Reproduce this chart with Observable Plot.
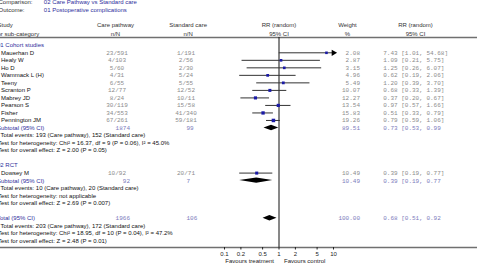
<!DOCTYPE html>
<html>
<head>
<meta charset="utf-8">
<script src="https://cdn.jsdelivr.net/npm/d3@7"></script>
<script src="https://cdn.jsdelivr.net/npm/@observablehq/plot@0.6"></script>
<style>
  html, body { margin: 0; padding: 0; background: #fff; overflow: hidden; }
  svg { display: block; }
</style>
</head>
<body>
<div id="chart"></div>
<script>
// Individual studies
const studies = ["Mauerhan D", "Healy W", "Ho D", "Wammack L (H)", "Teeny", "Scranton P",
  "Mabrey JD", "Pearson S", "Fisher", "Pennington JM", "Dowsey M"];
const studyGroup = [0, 0, 0, 0, 0, 0, 0, 0, 0, 0, 1];
const careEvents = ["23/591", "4/103", "5/60", "4/31", "6/55", "12/77", "8/24", "30/119", "34/553", "67/261", "10/92"];
const standardEvents = ["1/191", "2/56", "2/30", "5/24", "5/55", "12/52", "10/11", "15/58", "41/340", "59/181", "20/71"];
const studyRR = [7.43, 1.09, 1.25, 0.62, 1.20, 0.68, 0.37, 0.97, 0.51, 0.79, 0.39];
const studyLower = [1.01, 0.21, 0.26, 0.19, 0.39, 0.33, 0.20, 0.57, 0.33, 0.59, 0.19];
const studyUpper = [54.68, 5.75, 6.07, 2.06, 3.70, 1.39, 0.67, 1.66, 0.79, 1.06, 0.77];
const studyWeight = [2.08, 2.87, 3.15, 4.96, 5.49, 10.07, 12.27, 13.54, 15.83, 19.26, 10.49];

// Sub-groups, subtotals and the overall total (last entry)
const groupNames = ["01 Cohort studies", "02 RCT"];
const pooledLabels = ["Subtotal (95% CI)", "Subtotal (95% CI)", "Total (95% CI)"];
const pooledCare = ["1874", "92", "1966"];
const pooledStandard = ["99", "7", "106"];
const pooledRR = [0.73, 0.39, 0.68];
const pooledLower = [0.53, 0.19, 0.51];
const pooledUpper = [0.99, 0.77, 0.92];
const pooledWeight = [89.51, 10.49, 100.00];
const pooledNotes = [
  ["Total events: 193 (Care pathway), 152 (Standard care)",
   "Test for heterogeneity: Chi\u00b2 = 16.37, df = 9 (P = 0.06), I\u00b2 = 45.0%",
   "Test for overall effect: Z = 2.00 (P = 0.05)"],
  ["Total events: 10 (Care pathway), 20 (Standard care)",
   "Test for heterogeneity: not applicable",
   "Test for overall effect: Z = 2.69 (P = 0.007)"],
  ["Total events: 203 (Care pathway), 172 (Standard care)",
   "Test for heterogeneity: Chi\u00b2 = 18.95, df = 10 (P = 0.04), I\u00b2 = 47.2%",
   "Test for overall effect: Z = 2.48 (P = 0.01)"]
];

const axisTicks = [0.1, 0.2, 0.5, 1, 2, 5, 10];
const xClip = 10; // lines running past the last tick end in an arrow

const comparisonText = "02 Care Pathway vs Standard care";
const outcomeText = "01 Postoperative complications";

// ---- table layout: one row index per line of the forest plot
const fmt = v => v.toFixed(2);
const studyRows = [], groupRows = [], pooledRows = [], noteRows = [];
let r = -1;
const addPooled = k => {
  pooledRows.push({row: r, label: pooledLabels[k], care: pooledCare[k], std: pooledStandard[k],
    rr: pooledRR[k], lo: pooledLower[k], hi: pooledUpper[k], weight: pooledWeight[k],
    ci: `${fmt(pooledRR[k])} [${fmt(pooledLower[k])}, ${fmt(pooledUpper[k])}`});
  r++;
  pooledNotes[k].forEach((t, j) => { noteRows.push({row: r, text: t, first: j === 0}); r++; });
};
groupNames.forEach((g, gi) => {
  groupRows.push({row: r, label: g}); r++;
  studies.forEach((s, i) => {
    if (studyGroup[i] !== gi) return;
    studyRows.push({row: r, name: s, care: careEvents[i], std: standardEvents[i],
      rr: studyRR[i], lo: studyLower[i], hi: studyUpper[i], weight: studyWeight[i],
      ci: `${fmt(studyRR[i])} [${fmt(studyLower[i])}, ${fmt(studyUpper[i])}]`});
    r++;
  });
  addPooled(gi);
  r++;
});
addPooled(2);

// diamond outlines for pooled estimates
const diamondHalf = 0.36;
const diamonds = pooledRows.flatMap((d, k) => [
  {id: k, x: d.lo, y1: d.row, y2: d.row},
  {id: k, x: d.rr, y1: d.row - diamondHalf, y2: d.row + diamondHalf},
  {id: k, x: d.hi, y1: d.row, y2: d.row}
]);

const sans = "Liberation Sans, Arial, Helvetica, sans-serif";
const mono = "Liberation Mono, Courier New, monospace";
const blue = "#2e2e9c";
const gray = "#8c8c8c";
const pooledGray = "#7c7cbc";
const fs = 6;

// column headings: two lines each, offsets from the frame's top-left corner
const headers = [
  {a: "Study", b: "or sub-category", dx: -3, anchor: "start"},
  {a: "Care pathway", b: "n/N", dx: 115, anchor: "middle"},
  {a: "Standard care", b: "n/N", dx: 187.7, anchor: "middle"},
  {a: "Weight", b: "%", dx: 347, anchor: "middle"},
  {a: "RR (random)", b: "95% CI", dx: 415, anchor: "middle"}
];
const headLineDy = [-14.7, -6];

const topText = (t, dx, dy, anchor, fill) =>
  Plot.text([t], {frameAnchor: "top-left", text: d => d, dx, dy, textAnchor: anchor, fill, fontSize: fs});

const col = (data, opts) => Plot.text(data, {frameAnchor: "left", fontSize: fs, ...opts});

const chart = Plot.plot({
  width: 477,
  height: 267,
  marginTop: 37,
  marginBottom: 20,
  marginLeft: 0,
  marginRight: 0,
  style: {fontFamily: sans, fontSize: fs + "px", background: "#fff", overflow: "visible"},
  x: {type: "log", domain: [0.1, 10], range: [224, 333]},
  y: {type: "linear", domain: [0, 22], range: [52.3, 217.7], axis: null},
  r: {type: "linear", domain: [0, 20], range: [1.4, 2.0]},
  marks: [
    // header and bottom rules
    Plot.frame({anchor: "top", stroke: "#707070", strokeWidth: 1.5}),
    Plot.frame({anchor: "bottom", stroke: "#707070", strokeWidth: 1.5}),
    Plot.ruleX([1], {stroke: "#111", strokeWidth: 1}),

    // comparison / outcome lines
    topText("Comparison:", -2, -37.3, "start", "#333"),
    topText(comparisonText, 43.3, -37.3, "start", blue),
    topText("Outcome:", -2, -29.3, "start", "#333"),
    topText(outcomeText, 43.3, -29.3, "start", blue),

    // column headers
    ...headers.flatMap(h => [
      topText(h.a, h.dx, headLineDy[0], h.anchor, "#333"),
      topText(h.b, h.dx, headLineDy[1], h.anchor, "#333")
    ]),
    Plot.text(["RR (random)"], {x: 1, frameAnchor: "top", dy: headLineDy[0], text: d => d, fill: "#333", fontSize: fs}),
    Plot.text(["95% CI"], {x: 1, frameAnchor: "top", dy: headLineDy[1], text: d => d, fill: "#333", fontSize: fs}),

    // confidence intervals and point estimates
    Plot.ruleY(studyRows, {y: "row", x1: "lo", x2: d => Math.min(d.hi, xClip), stroke: "#333", strokeWidth: 1}),
    Plot.dot(studyRows.filter(d => d.hi > xClip), {x: () => xClip, y: "row", symbol: "triangle", rotate: 90, r: 2.3, fill: "#000"}),
    Plot.dot(studyRows, {x: "rr", y: "row", r: "weight", symbol: "square", fill: "#1a1aa6"}),
    Plot.areaY(diamonds, {x: "x", y1: "y1", y2: "y2", z: "id", fill: "#000", curve: "linear"}),

    // left text column
    col(groupRows, {y: "row", text: "label", dx: -3.5, textAnchor: "start", fill: blue}),
    col(studyRows, {y: "row", text: "name", dx: 0.5, textAnchor: "start", fill: "#111"}),
    col(pooledRows, {y: "row", text: "label", dx: -3.5, textAnchor: "start", fill: blue}),
    col(noteRows.filter(d => d.first), {y: "row", text: "text", dx: 0, textAnchor: "start", fill: "#111"}),
    col(noteRows.filter(d => !d.first), {y: "row", text: "text", dx: -2.5, textAnchor: "start", fill: "#111"}),

    // numeric columns
    col(studyRows, {y: "row", text: "care", dx: 116.5, textAnchor: "middle", fill: gray, fontFamily: mono}),
    col(studyRows, {y: "row", text: "std", dx: 185.5, textAnchor: "middle", fill: gray, fontFamily: mono}),
    col(studyRows, {y: "row", text: d => fmt(d.weight), dx: 359.5, textAnchor: "end", fill: gray, fontFamily: mono}),
    col(studyRows, {y: "row", text: "ci", dx: 382.7, textAnchor: "start", fill: gray, fontFamily: mono}),
    col(pooledRows, {y: "row", text: "care", dx: 129.5, textAnchor: "end", fill: pooledGray, fontFamily: mono}),
    col(pooledRows, {y: "row", text: "std", dx: 186, textAnchor: "start", fill: pooledGray, fontFamily: mono}),
    col(pooledRows, {y: "row", text: d => fmt(d.weight), dx: 359.5, textAnchor: "end", fill: pooledGray, fontFamily: mono}),
    col(pooledRows, {y: "row", text: "ci", dx: 382.7, textAnchor: "start", fill: pooledGray, fontFamily: mono}),

    // axis
    Plot.axisX({ticks: axisTicks, tickFormat: d => String(d), tickSize: 2.5, tickPadding: 1.5, fontSize: fs, fill: "#222", stroke: "#222"}),
    Plot.text(["Favours treatment"], {x: 1, frameAnchor: "bottom", dy: 15, dx: -5, textAnchor: "end", text: d => d, fontSize: fs, fill: "#222"}),
    Plot.text(["Favours control"], {x: 1, frameAnchor: "bottom", dy: 15, dx: 5, textAnchor: "start", text: d => d, fontSize: fs, fill: "#222"})
  ]
});

document.getElementById("chart").append(chart);
</script>
</body>
</html>
